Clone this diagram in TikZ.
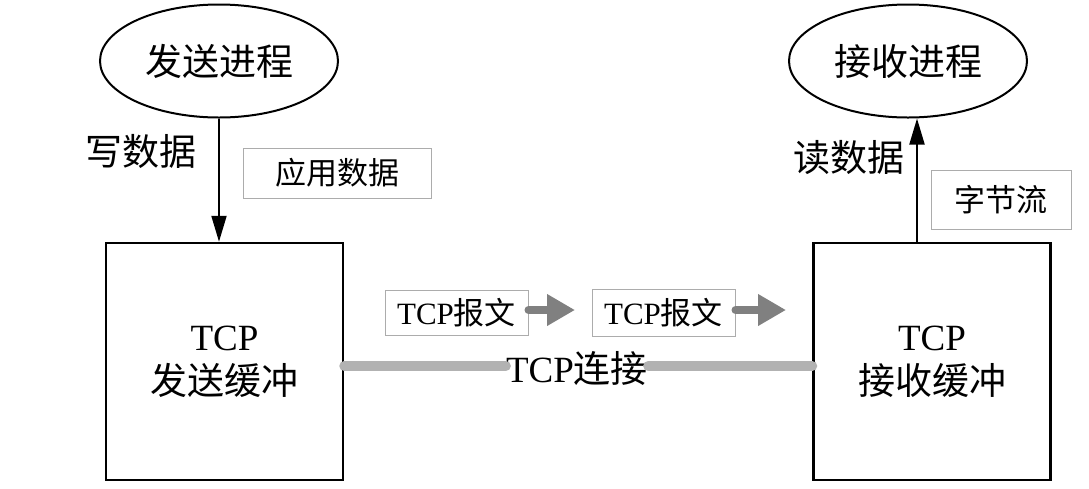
\documentclass[tikz,border=0pt]{standalone}
\usepackage{fontspec}
\setmainfont{Liberation Serif}
\newfontfamily\cjk{Noto Sans CJK SC}
\usetikzlibrary{arrows.meta,shapes.geometric}
\begin{document}
\begin{tikzpicture}[x=1pt,y=-1pt,
  proc/.style={draw,line width=2pt,ellipse,minimum width=238pt,minimum height=113pt,inner sep=0pt,font=\fontsize{37}{40}\selectfont\cjk},
  buf/.style={draw,line width=2.5pt,minimum width=237pt,minimum height=237pt,inner sep=0pt,align=center,font=\fontsize{37}{50}\selectfont},
  lbl/.style={font=\fontsize{37}{40}\selectfont\cjk,inner sep=0pt},
  tag/.style={draw=gray!65,line width=1pt,inner sep=0pt,font=\fontsize{31}{34}\selectfont},
  flow/.style={line width=2pt,-{Triangle[length=26pt,width=15pt]}},
  conn/.style={line width=10pt,draw=gray!60,line cap=round},
  seg/.style={line width=8pt,draw=gray,line cap=round,-{Triangle[length=28pt,width=30pt]}}
]
\path[use as bounding box] (0,0) rectangle (1089,488);
\node[proc] (send) at (219,61) {发送进程};
\node[proc] (recv) at (908,61) {接收进程};
\node[buf] (lbox) at (224.5,361.5) {TCP\\[-6pt]{\cjk 发送缓冲}};
\node[buf] (rbox) at (932,361.5) {TCP\\[-6pt]{\cjk 接收缓冲}};
\draw[flow] (send.south) -- (send.south |- lbox.north);
\draw[flow] (rbox.north) ++(-15,0) coordinate (ra) -- (ra |- recv.south);
\node[lbl] (write) at (141,151) {写数据};
\node[lbl] (read) at (849,158) {读数据};
\node[tag,minimum width=188pt,minimum height=50pt] (app) at (337,173) {\cjk 应用数据};
\node[tag,minimum width=140pt,minimum height=59pt] (bytes) at (1001,199.5) {\cjk 字节流};
\node[font=\fontsize{37}{40}\selectfont,inner sep=0pt] (tcpc) at (577,368) {TCP{\cjk 连接}};
\draw[conn] (lbox.east) ++(0,4.5) coordinate (la) -- (tcpc.west |- la);
\draw[conn] (tcpc.east |- la) -- (rbox.west |- la);
\node[tag,minimum width=143pt,minimum height=45pt] (p1) at (456.5,312.5) {TCP{\cjk 报文}};
\node[tag,minimum width=143pt,minimum height=47pt] (p2) at (663.5,313) {TCP{\cjk 报文}};
\coordinate (t1) at (575,310);
\coordinate (t2) at (786,310);
\draw[seg] (p1.east |- t1) -- (t1);
\draw[seg] (p2.east |- t2) -- (t2);
\end{tikzpicture}
\end{document}
